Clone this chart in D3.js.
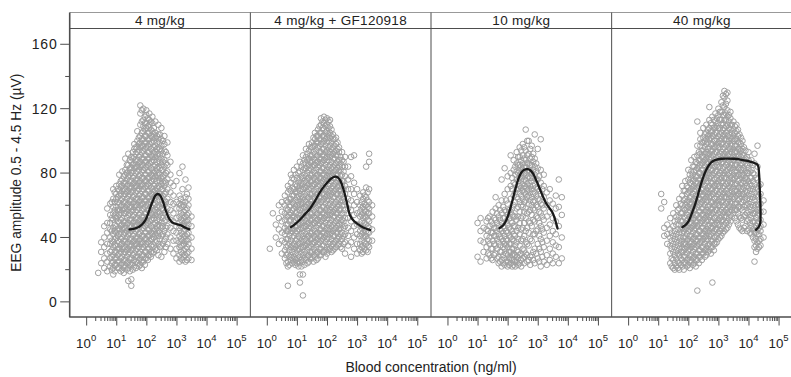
<!DOCTYPE html>
<html>
<head>
<meta charset="utf-8">
<script src="https://cdn.jsdelivr.net/npm/d3@7"></script>
<style>
  html, body { margin: 0; padding: 0; background: #fff; }
  svg text { font-family: "Liberation Sans", Arial, sans-serif; fill: #222; }
</style>
</head>
<body>
<svg id="chart" width="791" height="377"></svg>
<script>
// ---------------- data ----------------
const panelLabels = ["4 mg/kg", "4 mg/kg + GF120918", "10 mg/kg", "40 mg/kg"];
const yMajorTicks = [0, 40, 80, 120, 160];
const yMinorTicks = [20, 60, 100, 140];
const xDecades = [0, 1, 2, 3, 4, 5];

// point columns: [log10 blood concentration (ng/ml), [EEG amplitude (µV) ...]]
const points4 = [
  [0.4, [18]], [0.5, [24, 31, 37]], [0.6, [21, 27, 34, 40, 47]],
  [0.7, [19, 25, 30, 36, 43, 49, 58]], [0.8, [22, 27, 31, 36, 40, 45, 49, 54, 61]],
  [0.85, [20, 24, 28, 32, 38, 44, 52, 62]],
  [0.9, [17, 21, 25, 29, 34, 37, 42, 46, 51, 55, 59, 64, 70]],
  [0.95, [19, 23, 27, 31, 35, 39, 44, 48, 53, 57, 62, 68]],
  [1.0, [23, 27, 31, 35, 40, 43, 47, 52, 55, 59, 64, 67, 72]],
  [1.05, [21, 25, 29, 33, 38, 41, 45, 50, 53, 57, 62, 65, 70]],
  [1.1, [21, 25, 30, 33, 37, 42, 45, 49, 54, 57, 61, 66, 69, 73, 79]],
  [1.15, [19, 23, 27, 31, 35, 39, 43, 47, 51, 55, 59, 63, 67, 71, 75]],
  [1.2, [20, 24, 28, 33, 36, 40, 45, 48, 52, 57, 60, 64, 69, 72, 76, 81]],
  [1.25, [18, 22, 26, 30, 34, 38, 42, 46, 50, 55, 58, 62, 66, 70, 74, 78]],
  [1.3, [22, 26, 31, 34, 38, 43, 46, 50, 55, 58, 62, 67, 70, 74, 79, 82, 89]],
  [1.35, [20, 24, 28, 32, 36, 40, 44, 48, 52, 56, 60, 64, 68, 72, 76, 80, 85]],
  [1.4, [13, 21, 25, 30, 33, 37, 42, 45, 49, 54, 57, 61, 66, 69, 73, 78, 81, 85, 92]],
  [1.45, [19, 23, 27, 31, 35, 39, 43, 47, 51, 55, 59, 63, 67, 71, 75, 79, 83, 88]],
  [1.5, [10, 14, 23, 27, 32, 35, 39, 44, 47, 51, 56, 59, 63, 68, 71, 75, 80, 83, 87, 90]],
  [1.55, [20, 24, 29, 33, 37, 41, 45, 49, 53, 57, 61, 65, 69, 73, 77, 81, 85, 89, 93]],
  [1.6, [22, 26, 30, 35, 38, 42, 47, 50, 54, 59, 62, 66, 71, 74, 78, 83, 86, 90, 95, 98]],
  [1.65, [21, 25, 28, 32, 36, 40, 44, 48, 52, 56, 60, 64, 68, 72, 76, 80, 84, 88, 92, 96]],
  [1.7, [24, 28, 33, 36, 40, 45, 48, 52, 57, 60, 64, 69, 72, 76, 81, 84, 88, 93, 96, 100, 106]],
  [1.75, [22, 26, 30, 34, 38, 42, 46, 50, 54, 58, 62, 66, 70, 74, 78, 82, 86, 90, 94, 98, 102]],
  [1.8, [23, 27, 31, 36, 39, 43, 48, 51, 55, 60, 63, 67, 72, 75, 79, 84, 87, 91, 96, 99, 103, 110, 117, 122]],
  [1.85, [21, 25, 29, 33, 37, 41, 45, 49, 53, 57, 61, 65, 69, 73, 77, 81, 85, 89, 93, 97, 101, 105, 112, 119]],
  [1.9, [25, 29, 34, 37, 41, 46, 49, 53, 58, 61, 65, 70, 73, 77, 82, 85, 89, 94, 97, 101, 106, 109, 113, 120]],
  [1.95, [23, 27, 31, 35, 39, 43, 47, 51, 55, 59, 63, 67, 71, 75, 79, 83, 87, 91, 95, 99, 103, 107, 111, 115]],
  [2.0, [27, 31, 36, 39, 43, 48, 51, 55, 60, 63, 67, 72, 75, 79, 84, 87, 91, 96, 99, 103, 108, 111, 116, 119]],
  [2.05, [26, 29, 33, 37, 41, 45, 49, 53, 57, 61, 65, 69, 73, 77, 81, 85, 89, 93, 97, 101, 105, 109, 114]],
  [2.1, [29, 33, 38, 41, 45, 50, 53, 57, 62, 65, 69, 74, 77, 81, 86, 89, 93, 98, 101, 105, 110, 113, 117]],
  [2.15, [28, 31, 35, 39, 43, 47, 51, 55, 59, 63, 67, 71, 75, 79, 83, 87, 91, 95, 99, 103, 107, 112]],
  [2.2, [30, 34, 39, 42, 46, 51, 54, 58, 63, 66, 70, 75, 78, 82, 87, 90, 94, 99, 102, 106, 111, 115]],
  [2.25, [31, 35, 40, 44, 48, 52, 56, 60, 64, 68, 72, 76, 80, 84, 88, 92, 96, 100, 104, 108]],
  [2.3, [33, 37, 42, 45, 49, 54, 57, 61, 66, 69, 73, 78, 81, 85, 90, 93, 97, 102, 105, 112]],
  [2.35, [32, 38, 43, 47, 51, 55, 59, 63, 67, 71, 75, 79, 83, 87, 91, 95, 99, 103]],
  [2.4, [29, 36, 41, 44, 48, 53, 56, 60, 65, 68, 72, 77, 80, 84, 89, 92, 96, 101, 104, 110]],
  [2.45, [34, 39, 43, 47, 51, 55, 59, 63, 67, 71, 75, 79, 83, 87, 91, 95, 99, 104]],
  [2.5, [28, 35, 41, 46, 49, 53, 58, 61, 65, 70, 73, 77, 82, 85, 89, 94, 97, 101, 108]],
  [2.55, [36, 42, 47, 52, 57, 61, 66, 70, 74, 78, 82, 87, 92, 100]],
  [2.6, [31, 38, 44, 50, 55, 60, 63, 67, 72, 75, 79, 84, 88, 94, 98, 103]],
  [2.65, [34, 40, 46, 51, 56, 62, 68, 74, 80, 86, 93]],
  [2.7, [36, 42, 47, 53, 58, 64, 70, 76, 81, 85, 91, 99]],
  [2.8, [33, 40, 46, 51, 57, 62, 68, 74, 79, 87]],
  [2.9, [30, 38, 44, 50, 55, 61, 66, 72]],
  [3.0, [27, 33, 38, 43, 47, 52, 58, 62, 75]],
  [3.1, [25, 29, 34, 37, 41, 46, 49, 53, 58, 61, 66, 80]],
  [3.15, [27, 31, 35, 39, 43, 47, 51, 55, 60, 64]],
  [3.2, [26, 30, 35, 38, 42, 47, 50, 54, 59, 62, 70, 84]],
  [3.25, [28, 32, 36, 40, 44, 48, 52, 56, 60]],
  [3.3, [25, 29, 33, 38, 41, 45, 50, 53, 57, 62, 65, 76]],
  [3.35, [26, 30, 34, 38, 42, 46, 50, 54, 58, 67]],
  [3.4, [27, 31, 36, 39, 43, 48, 51, 55, 60, 64, 71]],
  [3.5, [26, 33, 40, 47, 53]]
];
const points4gf = [
  [0.1, [33]], [0.2, [55]], [0.3, [40, 48]], [0.4, [36, 45, 52, 60]],
  [0.5, [30, 38, 43, 50, 56, 62]],
  [0.6, [27, 32, 37, 42, 46, 51, 55, 60, 66]],
  [0.65, [24, 29, 34, 39, 44, 48, 53, 58, 63]],
  [0.7, [10, 22, 25, 30, 35, 39, 44, 48, 53, 57, 62, 68, 72]],
  [0.75, [23, 28, 32, 36, 41, 45, 50, 54, 59, 64, 70]],
  [0.8, [26, 29, 34, 38, 43, 46, 51, 55, 60, 64, 69, 74, 79]],
  [0.85, [24, 27, 31, 35, 40, 44, 48, 53, 57, 62, 66, 71, 77]],
  [0.9, [25, 28, 33, 36, 41, 45, 50, 53, 58, 61, 66, 70, 76, 82]],
  [0.95, [23, 26, 30, 34, 38, 43, 47, 51, 55, 59, 63, 68, 73, 79]],
  [1.0, [24, 27, 32, 35, 39, 44, 47, 52, 56, 60, 65, 68, 72, 77, 84]],
  [1.05, [22, 25, 29, 33, 37, 41, 45, 49, 54, 58, 62, 66, 70, 74, 80]],
  [1.1, [12, 17, 24, 28, 33, 36, 40, 45, 48, 52, 57, 60, 64, 69, 72, 76, 81, 87]],
  [1.15, [22, 26, 30, 34, 38, 42, 46, 50, 54, 58, 62, 66, 70, 74, 78, 84]],
  [1.2, [4, 17, 25, 29, 34, 37, 41, 46, 49, 53, 58, 61, 65, 70, 73, 77, 82, 86, 91]],
  [1.25, [23, 27, 31, 35, 39, 43, 47, 51, 55, 59, 63, 67, 71, 75, 79, 83, 88]],
  [1.3, [26, 30, 35, 38, 42, 47, 50, 54, 59, 62, 66, 71, 74, 78, 83, 86, 90, 95]],
  [1.35, [24, 28, 32, 36, 40, 44, 48, 52, 56, 60, 64, 68, 72, 76, 80, 84, 88, 92]],
  [1.4, [25, 29, 34, 37, 41, 46, 49, 53, 58, 61, 65, 70, 73, 77, 82, 85, 89, 94, 98]],
  [1.45, [27, 31, 35, 39, 43, 47, 51, 55, 59, 63, 67, 71, 75, 79, 83, 87, 91, 96]],
  [1.5, [27, 31, 36, 39, 43, 48, 51, 55, 60, 63, 67, 72, 75, 79, 84, 87, 91, 96, 99]],
  [1.55, [25, 29, 33, 37, 41, 45, 49, 53, 57, 61, 65, 69, 73, 77, 81, 85, 89, 93, 97, 102]],
  [1.6, [28, 32, 37, 40, 44, 49, 52, 56, 61, 64, 68, 73, 76, 80, 85, 88, 92, 97, 101, 105]],
  [1.65, [26, 30, 34, 38, 42, 46, 50, 54, 58, 62, 66, 70, 74, 78, 82, 86, 90, 94, 99, 103]],
  [1.7, [27, 31, 36, 39, 43, 48, 51, 55, 60, 63, 67, 72, 75, 79, 84, 87, 91, 96, 99, 103, 107]],
  [1.75, [29, 33, 37, 41, 45, 49, 53, 57, 61, 65, 69, 73, 77, 81, 85, 89, 93, 97, 101, 105, 109]],
  [1.8, [29, 33, 38, 41, 45, 50, 53, 57, 62, 65, 69, 74, 77, 81, 86, 89, 93, 98, 101, 105, 110, 114]],
  [1.85, [31, 35, 39, 43, 47, 51, 55, 59, 63, 67, 71, 75, 79, 83, 87, 91, 95, 99, 103, 108, 112]],
  [1.9, [31, 35, 40, 43, 47, 52, 55, 59, 64, 67, 71, 76, 79, 83, 88, 91, 95, 100, 103, 107, 111, 115]],
  [1.95, [28, 32, 37, 41, 45, 49, 53, 57, 61, 65, 69, 73, 77, 81, 85, 89, 93, 97, 101, 105, 109, 113]],
  [2.0, [30, 34, 39, 42, 46, 51, 54, 58, 63, 66, 70, 75, 78, 82, 87, 90, 94, 99, 102, 106, 110, 114]],
  [2.05, [32, 36, 40, 44, 48, 52, 56, 60, 64, 68, 72, 76, 80, 84, 88, 92, 96, 100, 104, 108, 112]],
  [2.1, [33, 37, 42, 45, 49, 54, 57, 61, 66, 69, 73, 78, 81, 85, 90, 93, 97, 102, 105, 109, 113]],
  [2.15, [31, 35, 39, 43, 47, 51, 55, 59, 63, 67, 71, 75, 79, 83, 87, 91, 95, 99, 103, 107]],
  [2.2, [32, 36, 41, 44, 48, 53, 56, 60, 65, 68, 72, 77, 80, 84, 89, 92, 96, 101, 104]],
  [2.25, [33, 37, 41, 45, 49, 53, 57, 61, 65, 69, 73, 77, 81, 85, 89, 93, 97, 101]],
  [2.3, [34, 38, 43, 46, 50, 55, 58, 62, 67, 70, 74, 79, 82, 86, 91, 94, 98, 102]],
  [2.35, [35, 39, 43, 47, 51, 55, 59, 63, 67, 71, 75, 79, 83, 87, 91, 95, 99]],
  [2.4, [36, 40, 45, 48, 52, 57, 60, 64, 69, 72, 76, 81, 84, 88, 93, 96]],
  [2.45, [34, 38, 42, 46, 50, 54, 58, 62, 66, 70, 74, 78, 82, 86, 90]],
  [2.5, [33, 39, 43, 48, 51, 55, 60, 63, 67, 72, 75, 79, 84, 88, 93]],
  [2.55, [36, 41, 46, 50, 55, 60, 65, 70, 75, 81, 87]],
  [2.6, [30, 37, 42, 47, 52, 57, 62, 67, 72, 78, 84, 90]],
  [2.7, [35, 41, 46, 52, 58, 64, 70, 76, 84]],
  [2.8, [28, 37, 44, 50, 57, 63, 70, 78, 90]],
  [2.9, [33, 40, 47, 54, 60, 67, 74, 91]],
  [3.0, [30, 36, 42, 48, 55, 62, 70]],
  [3.1, [32, 36, 41, 44, 48, 53, 56, 60, 66]],
  [3.15, [30, 34, 38, 42, 46, 50, 54, 58, 62]],
  [3.2, [31, 35, 40, 43, 47, 52, 55, 59, 64, 68]],
  [3.25, [33, 37, 41, 45, 49, 53, 57, 61, 66]],
  [3.3, [32, 36, 41, 44, 48, 53, 56, 60, 65, 71, 84]],
  [3.35, [31, 35, 39, 43, 47, 51, 55, 59, 63, 68]],
  [3.4, [34, 38, 43, 46, 50, 55, 58, 62, 70, 87, 92]],
  [3.5, [38, 45, 53, 60]]
];
const points10 = [
  [1.0, [28, 49]], [1.1, [25, 38, 44, 52]], [1.2, [31, 37, 46]],
  [1.3, [27, 34, 41, 45, 50]], [1.35, [30, 38, 44, 52]],
  [1.4, [29, 36, 40, 47, 53]], [1.45, [27, 33, 43, 50]],
  [1.5, [26, 33, 38, 43, 48, 56]], [1.55, [29, 36, 41, 46, 52]],
  [1.6, [30, 35, 41, 46, 51, 58, 65]], [1.65, [27, 33, 39, 44, 49, 55]],
  [1.7, [24, 28, 37, 42, 47, 53, 60]], [1.75, [25, 31, 35, 40, 45, 51, 57]],
  [1.8, [22, 26, 31, 39, 44, 49, 55, 63, 76]], [1.85, [24, 29, 34, 38, 43, 47, 52, 59]],
  [1.9, [23, 27, 33, 36, 41, 46, 52, 57, 67, 83]], [1.95, [25, 30, 35, 39, 44, 50, 56, 63]],
  [2.0, [22, 25, 29, 34, 38, 43, 48, 54, 61, 70, 78]],
  [2.05, [23, 27, 31, 36, 41, 46, 52, 57]],
  [2.1, [24, 27, 31, 36, 40, 45, 50, 56, 64, 72, 80, 91]],
  [2.15, [22, 26, 29, 33, 39, 44, 49, 54, 58, 70, 77]],
  [2.2, [23, 26, 30, 33, 38, 42, 47, 53, 60, 66, 74, 82, 88]],
  [2.25, [22, 25, 29, 35, 41, 47, 53, 62, 68, 73, 79, 84]],
  [2.3, [25, 28, 32, 37, 44, 51, 58, 65, 70, 76, 81, 86, 93]],
  [2.35, [23, 27, 31, 39, 46, 53, 59, 64, 70, 75, 80, 85, 90]],
  [2.4, [24, 29, 35, 42, 49, 56, 62, 68, 72, 77, 81, 85, 90, 96]],
  [2.45, [22, 26, 30, 38, 45, 52, 60, 66, 71, 76, 80, 84, 88, 94]],
  [2.5, [27, 33, 39, 46, 53, 59, 64, 69, 73, 78, 82, 86, 91, 98]],
  [2.55, [24, 28, 32, 41, 49, 56, 62, 68, 72, 76, 80, 84, 89, 96]],
  [2.6, [30, 37, 44, 52, 58, 63, 67, 71, 75, 79, 83, 88, 94, 107]],
  [2.65, [25, 29, 36, 46, 55, 65, 69, 73, 77, 81, 86, 91, 100]],
  [2.7, [26, 35, 43, 50, 56, 61, 66, 70, 74, 78, 82, 86, 92, 100]],
  [2.75, [23, 28, 39, 49, 57, 63, 68, 72, 77, 81, 85, 89, 95]],
  [2.8, [29, 38, 47, 54, 60, 65, 70, 75, 80, 85, 90, 97]],
  [2.85, [26, 31, 42, 51, 58, 62, 67, 72, 77, 82, 87, 92]],
  [2.9, [24, 33, 42, 50, 57, 63, 68, 73, 79, 84, 89, 104]],
  [2.95, [30, 44, 53, 60, 66, 71, 76, 81, 86]],
  [3.0, [27, 36, 45, 52, 59, 64, 70, 76, 83, 95]],
  [3.05, [25, 33, 41, 49, 56, 63, 69, 78]],
  [3.1, [22, 31, 39, 47, 55, 61, 67, 74, 82, 101]],
  [3.15, [28, 37, 45, 53, 60, 70]],
  [3.2, [25, 34, 43, 51, 58, 65, 72, 79]],
  [3.3, [23, 29, 38, 46, 53, 60, 68]],
  [3.4, [26, 33, 41, 48, 56, 63, 70]],
  [3.5, [24, 30, 37, 44, 52, 61]],
  [3.6, [28, 35, 42, 50, 58, 66]],
  [3.7, [24, 34, 47, 59, 76]],
  [3.8, [27, 40, 54, 65]]
];
const points40 = [
  [1.1, [58, 67]], [1.2, [41, 46, 62]], [1.3, [36, 42, 48]],
  [1.4, [24, 30, 35, 40, 45, 52]], [1.45, [22, 27, 33, 38, 43]],
  [1.5, [21, 26, 31, 36, 41, 47, 55]], [1.55, [20, 24, 29, 34, 39, 44, 50]],
  [1.6, [22, 27, 32, 37, 42, 48, 53, 60]], [1.65, [21, 25, 30, 35, 40, 45, 51, 57]],
  [1.7, [20, 24, 29, 33, 38, 43, 48, 53, 58, 64]], [1.75, [23, 27, 31, 36, 40, 45, 50, 55, 61]],
  [1.8, [22, 26, 31, 34, 38, 43, 46, 50, 55, 60, 66, 72]],
  [1.85, [20, 24, 28, 32, 36, 40, 44, 48, 53, 58, 63, 69]],
  [1.9, [24, 28, 33, 36, 40, 45, 48, 52, 57, 60, 64, 69, 75]],
  [1.95, [22, 26, 30, 34, 38, 42, 46, 50, 54, 58, 62, 67, 72]],
  [2.0, [23, 27, 32, 35, 39, 44, 47, 51, 56, 59, 63, 68, 71, 76, 82]],
  [2.05, [21, 25, 29, 33, 37, 41, 45, 49, 53, 57, 61, 65, 69, 74, 79]],
  [2.1, [25, 29, 34, 37, 41, 46, 49, 53, 58, 61, 65, 70, 73, 77, 81, 88]],
  [2.15, [23, 27, 31, 35, 39, 43, 47, 51, 55, 59, 63, 67, 71, 75, 79, 84]],
  [2.2, [24, 28, 33, 36, 40, 45, 48, 52, 57, 60, 64, 69, 72, 76, 81, 84, 90]],
  [2.25, [22, 26, 30, 34, 38, 42, 46, 50, 54, 58, 62, 66, 70, 74, 78, 82, 87]],
  [2.3, [7, 26, 30, 35, 38, 42, 47, 50, 54, 59, 62, 66, 71, 74, 78, 83, 86, 91, 97, 112]],
  [2.35, [24, 28, 32, 36, 40, 44, 48, 52, 56, 60, 64, 68, 72, 76, 80, 84, 88, 93]],
  [2.4, [28, 32, 37, 40, 44, 49, 52, 56, 61, 64, 68, 73, 76, 80, 85, 88, 92, 97, 101, 105]],
  [2.45, [26, 30, 34, 38, 42, 46, 50, 54, 58, 62, 66, 70, 74, 78, 82, 86, 90, 94, 99]],
  [2.5, [30, 34, 39, 42, 46, 51, 54, 58, 63, 66, 70, 75, 78, 82, 87, 90, 94, 99, 102, 108]],
  [2.55, [28, 32, 36, 40, 44, 48, 52, 56, 60, 64, 68, 72, 76, 80, 84, 88, 92, 96, 100, 104]],
  [2.6, [29, 33, 38, 41, 45, 50, 53, 57, 62, 65, 69, 74, 77, 81, 86, 89, 93, 98, 101, 105, 110]],
  [2.65, [31, 35, 39, 43, 47, 51, 55, 59, 63, 67, 71, 75, 79, 83, 87, 91, 95, 99, 103, 107]],
  [2.7, [32, 36, 41, 44, 48, 53, 56, 60, 65, 68, 72, 77, 80, 84, 89, 92, 96, 101, 104, 108, 113, 121]],
  [2.75, [30, 34, 38, 42, 46, 50, 54, 58, 62, 66, 70, 74, 78, 82, 86, 90, 94, 98, 102, 106, 111]],
  [2.8, [12, 34, 38, 43, 46, 50, 55, 58, 62, 67, 70, 74, 79, 82, 86, 91, 94, 98, 103, 106, 110, 115]],
  [2.85, [32, 36, 40, 44, 48, 52, 56, 60, 64, 68, 72, 76, 80, 84, 88, 92, 96, 100, 104, 108, 113]],
  [2.9, [36, 40, 45, 48, 52, 57, 60, 64, 69, 72, 76, 81, 84, 88, 93, 96, 100, 105, 108, 112, 117]],
  [2.95, [37, 41, 45, 49, 53, 57, 61, 65, 69, 73, 77, 81, 85, 89, 93, 97, 101, 105, 109, 114]],
  [3.0, [39, 43, 48, 51, 55, 60, 63, 67, 72, 75, 79, 84, 87, 91, 96, 99, 103, 108, 111, 116, 120]],
  [3.05, [40, 44, 48, 52, 56, 60, 64, 68, 72, 76, 80, 84, 88, 92, 96, 100, 104, 108, 113, 118]],
  [3.1, [41, 45, 50, 53, 57, 62, 65, 69, 74, 77, 81, 86, 89, 93, 98, 101, 105, 110, 113, 118, 124]],
  [3.15, [43, 47, 51, 55, 59, 63, 67, 71, 75, 79, 83, 87, 91, 95, 99, 103, 107, 111, 116, 122, 128]],
  [3.2, [44, 48, 53, 56, 60, 65, 68, 72, 77, 80, 84, 89, 92, 96, 101, 104, 108, 113, 116, 121, 127, 131]],
  [3.25, [45, 49, 53, 57, 61, 65, 69, 73, 77, 81, 85, 89, 93, 97, 101, 105, 109, 113, 117, 123, 129]],
  [3.3, [46, 50, 55, 58, 62, 67, 70, 74, 79, 82, 86, 91, 94, 98, 103, 106, 110, 115, 119, 125, 130]],
  [3.35, [48, 52, 56, 60, 64, 68, 72, 76, 80, 84, 88, 92, 96, 100, 104, 108, 112, 116]],
  [3.4, [50, 54, 59, 62, 66, 71, 74, 78, 83, 86, 90, 95, 98, 102, 107, 110, 114, 118]],
  [3.45, [53, 57, 61, 65, 69, 73, 77, 81, 85, 89, 93, 97, 101, 105, 110]],
  [3.5, [55, 59, 64, 67, 71, 76, 79, 83, 88, 91, 95, 100, 103, 107, 112]],
  [3.55, [52, 57, 61, 65, 69, 73, 77, 81, 85, 89, 93, 97, 101, 105, 109]],
  [3.6, [50, 57, 61, 66, 69, 73, 78, 81, 85, 90, 93, 97, 101, 106, 110]],
  [3.65, [48, 55, 59, 63, 67, 71, 75, 79, 83, 87, 91, 95, 99, 103, 107]],
  [3.7, [46, 53, 59, 64, 67, 71, 76, 79, 83, 88, 91, 95, 99, 104]],
  [3.75, [45, 52, 58, 62, 66, 70, 74, 78, 82, 86, 90, 94, 98, 102]],
  [3.8, [44, 51, 57, 62, 67, 70, 74, 79, 82, 86, 91, 95, 100]],
  [3.85, [46, 53, 59, 63, 67, 71, 75, 79, 83, 87, 91, 96]],
  [3.9, [47, 54, 60, 65, 69, 74, 77, 81, 86, 89, 94]],
  [3.95, [44, 50, 55, 60, 64, 68, 72, 76, 80, 85, 90]],
  [4.0, [45, 51, 56, 61, 66, 71, 75, 80, 83, 88, 93]],
  [4.05, [43, 49, 54, 59, 64, 69, 73, 77, 81, 86]],
  [4.1, [42, 47, 52, 57, 62, 67, 72, 77, 82, 88]],
  [4.15, [40, 45, 50, 55, 60, 65, 70, 75, 80, 85]],
  [4.2, [25, 34, 38, 43, 46, 50, 55, 58, 63, 68, 73, 79, 86, 92]],
  [4.25, [31, 35, 39, 43, 47, 52, 56, 60, 66, 71, 77]],
  [4.3, [33, 37, 42, 45, 49, 54, 57, 61, 65, 70, 76, 84, 97]],
  [4.35, [34, 38, 42, 46, 50, 55, 60, 66, 72]],
  [4.4, [35, 39, 44, 47, 51, 56, 61, 67, 73]],
  [4.5, [40, 48, 56, 63]]
];

// smoothed fits: [log10 concentration, EEG amplitude]
const fit4 = [[1.44, 45], [1.6, 45.5], [1.75, 46.5], [1.9, 49], [2.0, 52], [2.1, 57], [2.2, 62], [2.3, 66],
  [2.38, 67], [2.46, 66], [2.56, 62], [2.65, 56.5], [2.75, 52], [2.85, 49.5], [3.0, 48.3], [3.15, 47.5],
  [3.3, 46], [3.43, 45]];
const fit4gf = [[0.8, 46.4], [0.95, 48.5], [1.1, 51], [1.27, 54.5], [1.44, 58], [1.58, 62], [1.71, 66.4],
  [1.85, 70.5], [1.99, 73.7], [2.13, 76.5], [2.27, 77.8], [2.36, 77.3], [2.45, 75], [2.53, 71], [2.6, 66.4],
  [2.68, 60], [2.76, 54], [2.88, 50.5], [2.99, 48.8], [3.13, 47], [3.26, 45.7], [3.43, 44.7]];
const fit10 = [[1.73, 45.8], [1.85, 47.5], [1.95, 50.5], [2.03, 54.5], [2.11, 59.5], [2.2, 66], [2.28, 71.6],
  [2.36, 76.5], [2.44, 79.9], [2.55, 82], [2.67, 82.4], [2.76, 81.6], [2.85, 79.5], [2.95, 75.5], [3.05, 71],
  [3.16, 66], [3.27, 61.5], [3.38, 58.5], [3.49, 55.5], [3.57, 51.5], [3.63, 47.5], [3.66, 45.6]];
const fit40 = [[1.8, 46.4], [1.92, 48], [2.02, 50.5], [2.13, 55.5], [2.24, 61.3], [2.35, 68.5], [2.46, 75.5],
  [2.57, 81], [2.69, 85], [2.8, 87.2], [2.91, 88.2], [3.1, 88.9], [3.3, 89], [3.52, 88.9], [3.74, 88.4],
  [3.92, 87.7], [4.07, 87], [4.2, 86.2], [4.31, 85], [4.35, 80], [4.37, 72], [4.39, 63], [4.4, 55],
  [4.39, 49], [4.34, 46.5], [4.25, 44.8]];

const panelPoints = [points4, points4gf, points10, points40];
const panelFits = [fit4, fit4gf, fit10, fit40];

// ---------------- layout ----------------
const svg = d3.select("#chart");
const W = 180.65;            // panel width
const left0 = 69.7;          // left edge of first panel
const stripTop = 12.5, plotTop = 28.5, plotBottom = 317;

const x = d3.scaleLog().domain([Math.pow(10, -0.547), Math.pow(10, 5.456)]).range([0, W]);
const y = d3.scaleLinear().domain([-9.4, 169.8]).range([plotBottom, plotTop]);

const frameColor = "#4d4d4d";

panelLabels.forEach((label, i) => {
  const g = svg.append("g").attr("transform", `translate(${left0 + i * W},0)`);

  // points
  const pts = [];
  panelPoints[i].forEach(([lx, ys]) => ys.forEach(v => pts.push([Math.pow(10, lx), v])));
  g.append("g").selectAll("circle").data(pts).join("circle")
    .attr("cx", d => x(d[0]))
    .attr("cy", d => y(d[1]))
    .attr("r", 2.8)
    .attr("fill", "none")
    .attr("stroke", "#a0a0a0")
    .attr("stroke-width", 1);

  // fitted curve
  const line = d3.line().x(d => x(Math.pow(10, d[0]))).y(d => y(d[1])).curve(d3.curveCatmullRom.alpha(0.5));
  g.append("path").datum(panelFits[i]).attr("d", line)
    .attr("fill", "none").attr("stroke", "#1a1a1a").attr("stroke-width", 2.3)
    .attr("stroke-linejoin", "round").attr("stroke-linecap", "round");

  // strip
  g.append("text").attr("x", W / 2).attr("y", 24.5).attr("text-anchor", "middle")
    .attr("font-size", 13.5).attr("letter-spacing", 0.3).text(label);

  // x axis
  const ax = d3.axisBottom(x)
    .tickValues(d3.range(0, 6).flatMap(k => k < 5 ? [1,2,3,4,5,6,7,8,9].map(m => m * Math.pow(10, k)) : [Math.pow(10, k)]))
    .tickSize(4).tickFormat("");
  const axg = g.append("g").attr("transform", `translate(0,${plotBottom})`).call(ax);
  axg.select(".domain").remove();
  axg.selectAll(".tick line").attr("stroke", frameColor);
  const major = xDecades.map(k => Math.pow(10, k));
  axg.selectAll(".tick").filter(d => major.some(m => Math.abs(m - d) / m < 1e-9))
    .select("line").attr("y2", 8.5);

  const lab = g.append("g").selectAll("text").data(xDecades).join("text")
    .attr("x", d => x(Math.pow(10, d)))
    .attr("y", 347.5)
    .attr("text-anchor", "middle")
    .attr("font-size", 13.3);
  lab.append("tspan").text("10");
  lab.append("tspan").attr("dy", -7).attr("font-size", 9.5).text(d => d);
});

// frame lines
const right = left0 + 4 * W;
svg.append("line").attr("x1", left0).attr("x2", right).attr("y1", stripTop).attr("y2", stripTop)
  .attr("stroke", "#999").attr("stroke-width", 1);
svg.append("line").attr("x1", left0).attr("x2", right).attr("y1", plotTop).attr("y2", plotTop)
  .attr("stroke", frameColor).attr("stroke-width", 1);
svg.append("line").attr("x1", left0 - 0.5).attr("x2", right).attr("y1", plotBottom).attr("y2", plotBottom)
  .attr("stroke", frameColor).attr("stroke-width", 1.6);
d3.range(0, 4).forEach(i => {
  svg.append("line").attr("x1", left0 + i * W).attr("x2", left0 + i * W)
    .attr("y1", stripTop).attr("y2", plotBottom)
    .attr("stroke", frameColor).attr("stroke-width", i === 0 ? 1.6 : 1);
});

// y axis
const yAxis = svg.append("g").attr("transform", `translate(${left0},0)`);
yAxis.selectAll("line.major").data(yMajorTicks).join("line")
  .attr("x1", -9.5).attr("x2", 0).attr("y1", d => y(d)).attr("y2", d => y(d))
  .attr("stroke", frameColor).attr("stroke-width", 1);
yAxis.selectAll("line.minor").data(yMinorTicks).join("line")
  .attr("x1", -4.5).attr("x2", 0).attr("y1", d => y(d)).attr("y2", d => y(d))
  .attr("stroke", frameColor).attr("stroke-width", 1);
yAxis.selectAll("text").data(yMajorTicks).join("text")
  .attr("x", -12).attr("y", d => y(d)).attr("dy", "0.36em")
  .attr("text-anchor", "end").attr("font-size", 14).attr("letter-spacing", 0.9)
  .text(d => d);

// axis titles
svg.append("text").attr("transform", `translate(21,${(plotTop + plotBottom) / 2}) rotate(-90)`)
  .attr("text-anchor", "middle").attr("font-size", 13.8).text("EEG amplitude 0.5 - 4.5 Hz (µV)");
svg.append("text").attr("x", (left0 + right) / 2).attr("y", 372)
  .attr("text-anchor", "middle").attr("font-size", 14).text("Blood concentration (ng/ml)");
</script>
</body>
</html>
